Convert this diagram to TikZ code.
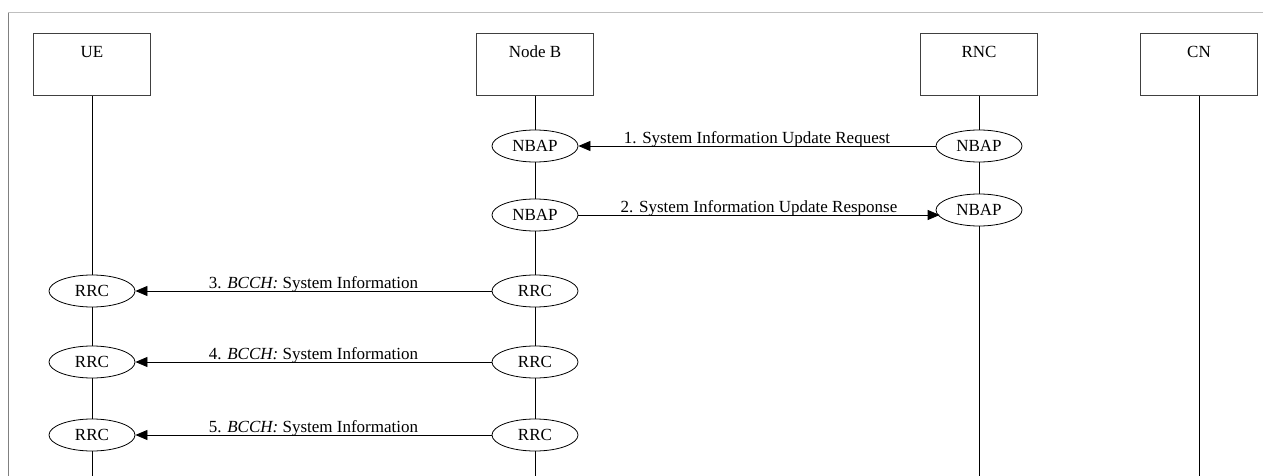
\documentclass[tikz,border=0pt]{standalone}
\usepackage{fontspec}
\setmainfont{Liberation Serif}
\usetikzlibrary{arrows.meta}
\usetikzlibrary{shapes.geometric}
\usetikzlibrary{calc}

\begin{document}
\begin{tikzpicture}[x=1pt, y=-1pt, every node/.style={font=\fontsize{17}{20}\selectfont},
	entity/.style={draw=black!75, line width=1.2pt, minimum width=117pt, minimum height=62pt, anchor=north, inner sep=0pt},
	proto/.style={ellipse, draw, fill=white, line width=0.8pt, minimum width=86pt, minimum height=32pt, inner sep=0pt},
	msg/.style={-{Triangle[length=12pt, width=10pt]}, line width=0.8pt},
	msglabel/.style={midway, anchor=base, inner sep=0pt, yshift=3pt}]
			
			\useasboundingbox (0,0) rectangle (1263,476);
			\draw[black!25, line width=1pt] (8,13) -- (1263,13);
			\draw[black!50, line width=1pt] (8,13) -- (8,476);
			
			\node[entity, label={[anchor=north, inner sep=0pt, yshift=-13pt]north:UE}] (ue) at (92,33) {};
			\node[entity, label={[anchor=north, inner sep=0pt, yshift=-13pt]north:Node B}] (nodeb) at (535,33) {};
			\node[entity, label={[anchor=north, inner sep=0pt, yshift=-13pt]north:RNC}] (rnc) at (979,33) {};
			\node[entity, label={[anchor=north, inner sep=0pt, yshift=-13pt]north:CN}] (cn) at (1199,33) {};
			
			\coordinate (ue-end) at (92,476);
			\coordinate (nodeb-end) at (535,476);
			\coordinate (rnc-end) at (979,476);
			\coordinate (cn-end) at (1199,476);
			
			%  lifelines
			\draw[line width=1pt] (ue) -- (ue-end);
			\draw[line width=1pt] (nodeb) -- (nodeb-end);
			\draw[line width=1pt] (rnc) -- (rnc-end);
			\draw[line width=1pt] (cn) -- (cn-end);
			
			\node[proto] (nb1) at (535,146) {NBAP};
			\node[proto] (rn1) at (979,146) {NBAP};
			\node[proto] (nb2) at (535,215) {NBAP};
			\node[proto] (rn2) at (979,210) {NBAP};
			\node[proto] (ue3) at (92,291) {RRC};
			\node[proto] (nb3) at (535,291) {RRC};
			\node[proto] (ue4) at (92,362) {RRC};
			\node[proto] (nb4) at (535,362) {RRC};
			\node[proto] (ue5) at (92,435) {RRC};
			\node[proto] (nb5) at (535,435) {RRC};
			
			%  for NBAP
			\draw[msg] (rn1) -- (nb1) node[msglabel] {1. System Information Update Request};
			\draw[msg] (nb2.east) -- (nb2.east -| rn2.190) node[msglabel] {2. System Information Update Response};
			%  for RRC
			\draw[msg] (nb3) -- (ue3) node[msglabel] {3. \textit{BCCH:} System Information};
			\draw[msg] (nb4) -- (ue4) node[msglabel] {4. \textit{BCCH:} System Information};
			\draw[msg] (nb5) -- (ue5) node[msglabel] {5. \textit{BCCH:} System Information};
		\end{tikzpicture}
\end{document}
